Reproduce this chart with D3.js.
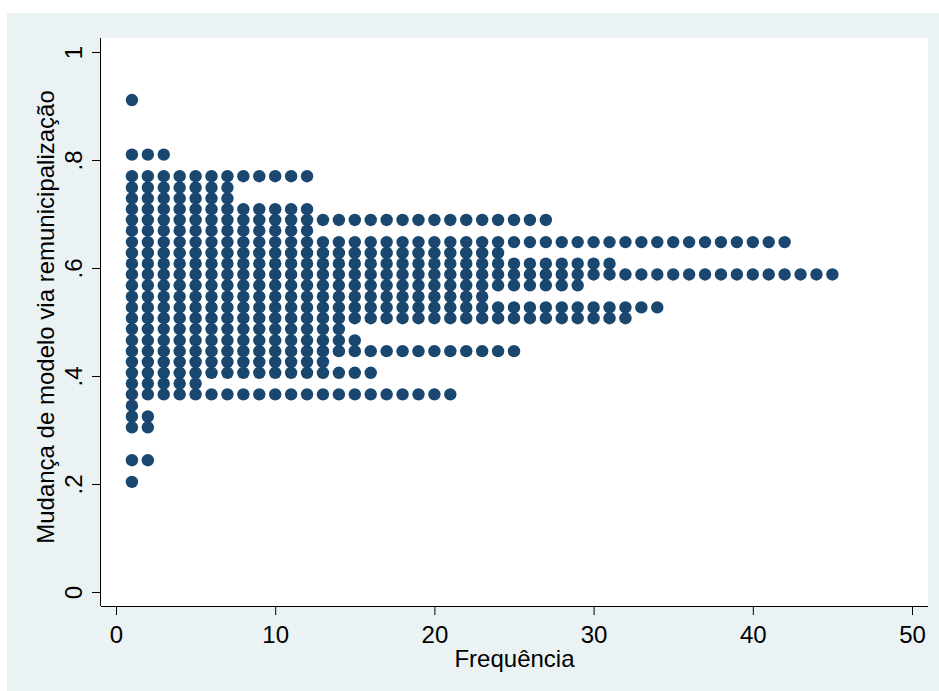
<!DOCTYPE html>
<html>
<head>
<meta charset="utf-8">
<script src="https://cdn.jsdelivr.net/npm/d3@7/dist/d3.min.js"></script>
<style>
  html, body { margin: 0; padding: 0; background: #ffffff; }
  svg { display: block; }
  text { font-family: "Liberation Sans", Arial, sans-serif; fill: #000; }
</style>
</head>
<body>
<svg id="chart" width="939" height="691"></svg>
<script>
// Dot plot: each group value on the y axis, one dot per observation stacked to the right
const groupValues = [0.204, 0.244, 0.305, 0.325, 0.345, 0.366, 0.386, 0.406, 0.426, 0.446,
                     0.466, 0.487, 0.507, 0.527, 0.547, 0.568, 0.588, 0.608, 0.628, 0.648,
                     0.669, 0.689, 0.709, 0.729, 0.749, 0.770, 0.810, 0.911];
const groupCounts = [1, 2, 2, 2, 1, 21, 5, 16, 13, 25,
                     15, 14, 32, 34, 23, 29, 45, 31, 24, 42,
                     12, 27, 12, 7, 7, 12, 3, 1];
const xTicks = [0, 10, 20, 30, 40, 50];
const yTicks = [0, 0.2, 0.4, 0.6, 0.8, 1];
const yTickLabels = ["0", ".2", ".4", ".6", ".8", "1"];
const xTitle = "Frequência";
const yTitle = "Mudança de modelo via remunicipalização";

const svg = d3.select("#chart");
const W = 939, H = 691;

// Graph background and plot region
svg.append("rect").attr("x", 7).attr("y", 13).attr("width", W - 7).attr("height", H - 13)
   .attr("fill", "#EAF2F3");
const plot = { left: 101, right: 928, top: 38, bottom: 606 };
svg.append("rect").attr("x", plot.left).attr("y", plot.top)
   .attr("width", plot.right - plot.left).attr("height", plot.bottom - plot.top)
   .attr("fill", "#ffffff");

const x = d3.scaleLinear().domain([0, 50]).range([116, 912]);
const y = d3.scaleLinear().domain([0, 1]).range([592, 52]);

// Expand each group into its dots
const dots = [];
groupValues.forEach((v, i) => {
  for (let j = 1; j <= groupCounts[i]; j++) dots.push({ n: j, v: v });
});

svg.append("g").selectAll("circle").data(dots).join("circle")
   .attr("cx", d => x(d.n)).attr("cy", d => y(d.v)).attr("r", 6.2)
   .attr("fill", "#1A476F");

// Axes
const xAxis = svg.append("g").attr("transform", `translate(0,${plot.bottom})`)
  .call(d3.axisBottom(x).tickValues(xTicks).tickSize(9).tickPadding(5).tickFormat(d3.format("d")));
xAxis.select(".domain").attr("d", `M${plot.left},0.5H${plot.right}`).attr("stroke", "#000");
xAxis.selectAll(".tick line").attr("stroke", "#000");
xAxis.selectAll(".tick text").attr("font-size", 24).attr("dy", null).attr("y", 37);

const yAxis = svg.append("g").attr("transform", `translate(${plot.left},0)`)
  .call(d3.axisLeft(y).tickValues(yTicks).tickSize(9).tickFormat((d, i) => yTickLabels[i]));
yAxis.select(".domain").attr("d", `M-0.5,${plot.top}V${plot.bottom}`).attr("stroke", "#000");
yAxis.selectAll(".tick line").attr("stroke", "#000");
yAxis.selectAll(".tick text")
   .attr("font-size", 24).attr("x", null).attr("dy", null)
   .attr("text-anchor", "middle")
   .attr("transform", "translate(-19,0) rotate(-90)");

// Titles
svg.append("text").attr("x", (plot.left + plot.right) / 2).attr("y", 667)
   .attr("text-anchor", "middle").attr("font-size", 24).text(xTitle);
svg.append("text").attr("transform", "translate(54,317) rotate(-90)")
   .attr("text-anchor", "middle").attr("font-size", 24).text(yTitle);
</script>
</body>
</html>
